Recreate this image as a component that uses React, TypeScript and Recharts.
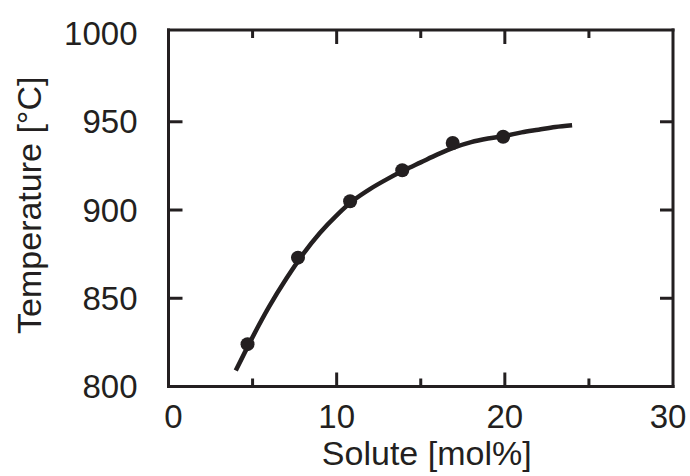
import React from 'react';
import { ComposedChart, Line, Scatter, XAxis, YAxis } from 'recharts';

const INK = '#231f20';
const FONT = '"Liberation Sans", Arial, Helvetica, sans-serif';

// axis ticks
const xTicks = [0, 5, 10, 15, 20, 25, 30];
const yTicks = [800, 850, 900, 950, 1000];
const yInnerTicks = [850, 900, 950];

// measured points
const measuredSolute = [4.7, 7.7, 10.8, 13.9, 16.9, 19.9];
const measuredTemp = [824, 873, 905, 922.5, 938, 941.5];

// fitted curve
const fitSolute = [4, 5, 6, 7, 8, 9, 10, 11, 12, 13, 14, 15, 16, 17, 18, 19, 20, 21, 22, 23, 24];
const fitTemp = [809, 828, 845.5, 861, 875, 887, 897, 905.5, 912, 917.5, 922.5, 927, 931.5, 935.5, 938.5, 940.5, 942, 944, 945.5, 947, 948];

const measuredData = measuredSolute.map((s, i) => ({ x: s, y: measuredTemp[i] }));
const fitData = fitSolute.map((s, i) => ({ x: s, y: fitTemp[i] }));

const X_DOMAIN: [number, number] = [0, 30];
const Y_DOMAIN: [number, number] = [800, 1002];

const TICK_FONT = 33;
const TITLE_FONT = 34;

const BottomTick = (props: any) => {
  const { x, y, payload } = props;
  const v = payload.value as number;
  const major = v % 10 === 0;
  const len = major ? 14 : 8;
  const showLine = v !== 0 && v !== 30;
  const dx = v === 0 ? 5 : v === 30 ? -5 : 0;
  return (
    <g>
      {showLine && <line x1={x} y1={y} x2={x} y2={y - len} stroke={INK} strokeWidth={3} />}
      {major && (
        <text x={x + dx} y={y + 41} textAnchor="middle" fontSize={TICK_FONT} fontFamily={FONT} fill={INK}>
          {v}
        </text>
      )}
    </g>
  );
};

const TopTick = (props: any) => {
  const { x, y, payload } = props;
  const v = payload.value as number;
  if (v === 0 || v === 30) return <g />;
  const len = v % 10 === 0 ? 14 : 8;
  return <line x1={x} y1={y} x2={x} y2={y + len} stroke={INK} strokeWidth={3} />;
};

const LeftTick = (props: any) => {
  const { x, y, payload } = props;
  const v = payload.value as number;
  const showLine = yInnerTicks.indexOf(v) >= 0;
  return (
    <g>
      {showLine && <line x1={x} y1={y} x2={x + 14} y2={y} stroke={INK} strokeWidth={3} />}
      <text x={x - 31} y={y} dy="0.355em" textAnchor="end" fontSize={TICK_FONT} fontFamily={FONT} fill={INK}>
        {v}
      </text>
    </g>
  );
};

const RightTick = (props: any) => {
  const { x, y } = props;
  return <line x1={x} y1={y} x2={x - 13} y2={y} stroke={INK} strokeWidth={3} />;
};

const XTitle = (props: any) => {
  const vb = props.viewBox || { x: 168.5, y: 386.5, width: 504.5, height: 89.5 };
  return (
    <text
      x={vb.x + vb.width / 2 + 6}
      y={vb.y + 78.5}
      textAnchor="middle"
      fontSize={TITLE_FONT}
      fontFamily={FONT}
      fill={INK}
    >
      Solute [mol%]
    </text>
  );
};

const YTitle = (props: any) => {
  const vb = props.viewBox || { x: 0, y: 30, width: 168.5, height: 356.5 };
  const cy = vb.y + vb.height / 2 - 3;
  return (
    <text
      transform={`translate(41, ${cy}) rotate(-90)`}
      x={0}
      y={0}
      textAnchor="middle"
      fontSize={TITLE_FONT}
      fontFamily={FONT}
      fill={INK}
    >
      Temperature [°C]
    </text>
  );
};

const Dot = (props: any) => {
  const { cx, cy } = props;
  return <circle cx={cx} cy={cy} r={7} fill={INK} />;
};

export default function App() {
  const axisLine = { stroke: INK, strokeWidth: 3, strokeLinecap: 'square' as const };
  return (
    <div style={{ position: 'absolute', left: 0, top: 0, background: '#fff' }}>
      <ComposedChart width={690} height={476} margin={{ top: 29, right: 0, bottom: 0, left: 0 }}>
        <XAxis
          xAxisId="bottom"
          type="number"
          dataKey="x"
          domain={X_DOMAIN}
          allowDataOverflow
          ticks={xTicks}
          interval={0}
          orientation="bottom"
          height={89.5}
          tickSize={0}
          tickMargin={0}
          tickLine={false}
          axisLine={axisLine}
          tick={<BottomTick />}
          label={<XTitle />}
        />
        <XAxis
          xAxisId="top"
          type="number"
          dataKey="x"
          domain={X_DOMAIN}
          allowDataOverflow
          ticks={xTicks}
          interval={0}
          orientation="top"
          height={1}
          tickSize={0}
          tickMargin={0}
          tickLine={false}
          axisLine={axisLine}
          tick={<TopTick />}
        />
        <YAxis
          yAxisId="left"
          type="number"
          dataKey="y"
          domain={Y_DOMAIN}
          allowDataOverflow
          ticks={yTicks}
          interval={0}
          orientation="left"
          width={168.5}
          tickSize={0}
          tickMargin={0}
          tickLine={false}
          axisLine={axisLine}
          tick={<LeftTick />}
          label={<YTitle />}
        />
        <YAxis
          yAxisId="right"
          type="number"
          dataKey="y"
          domain={Y_DOMAIN}
          allowDataOverflow
          ticks={yInnerTicks}
          interval={0}
          orientation="right"
          width={17}
          tickSize={0}
          tickMargin={0}
          tickLine={false}
          axisLine={axisLine}
          tick={<RightTick />}
        />
        <Line
          xAxisId="bottom"
          yAxisId="left"
          data={fitData}
          dataKey="y"
          type="monotone"
          stroke={INK}
          strokeWidth={4.5}
          dot={false}
          activeDot={false}
          isAnimationActive={false}
        />
        <Scatter
          xAxisId="bottom"
          yAxisId="left"
          data={measuredData}
          dataKey="y"
          fill={INK}
          shape={<Dot />}
          isAnimationActive={false}
        />
      </ComposedChart>
    </div>
  );
}
